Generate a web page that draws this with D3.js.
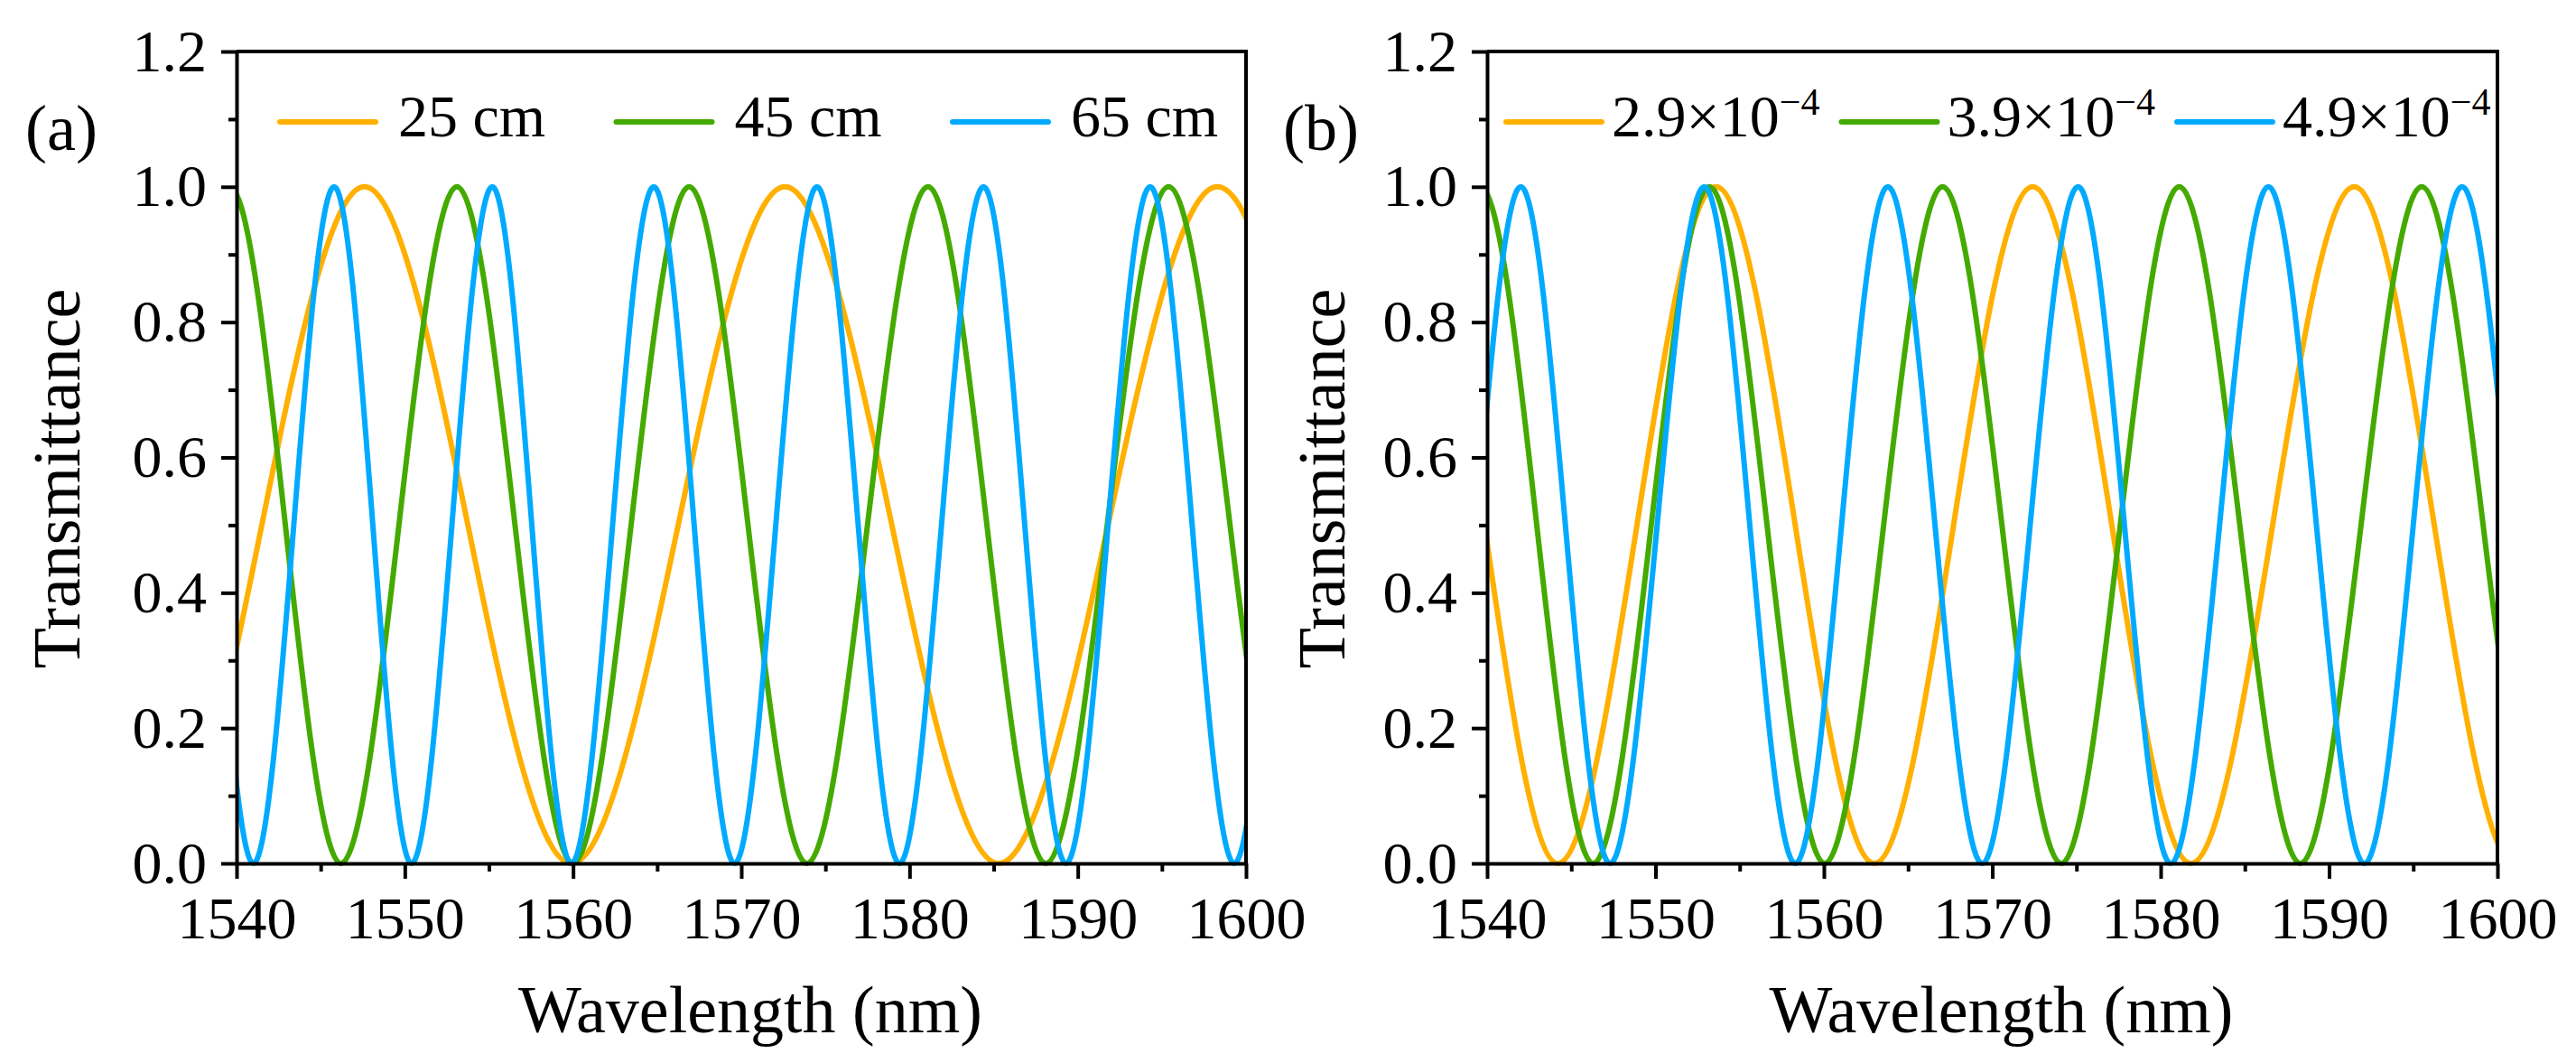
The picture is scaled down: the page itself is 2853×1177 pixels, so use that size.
<!DOCTYPE html>
<html lang="en">
<head>
<meta charset="utf-8">
<script src="https://cdn.jsdelivr.net/npm/d3@7"></script>
<style>
  body { margin: 0; background: #fff; }
  svg text { font-family: "Liberation Serif", "Times New Roman", serif; fill: #000; }
</style>
</head>
<body>
<svg id="chart" width="2853" height="1177"></svg>
<script>
// ticks
var wlTicks = [1540, 1550, 1560, 1570, 1580, 1590, 1600];
var wlMinor = [1545, 1555, 1565, 1575, 1585, 1595];
var tTicks = [0, 0.2, 0.4, 0.6, 0.8, 1.0, 1.2];
var tMinor = [0.1, 0.3, 0.5, 0.7, 0.9, 1.1];

var colors = ["#FFB000", "#44AA00", "#00AAFF"];

// turning points (peaks = 1, dips = 0) of each fringe;
// the first/last two lie just outside 1540-1600 and get clipped
// (a) fibre length
var labelsA = ["25 cm", "45 cm", "65 cm"];
var a25Wl = [1522.9, 1535.4, 1547.6, 1559.9, 1572.6, 1585.3, 1598.3, 1611.4, 1624.6];
var a25T  = [1, 0, 1, 0, 1, 0, 1, 0, 1];
var a45Wl = [1532.9, 1539.6, 1546.2, 1553.1, 1560.0, 1566.9, 1573.9, 1581.1, 1588.1, 1595.4, 1602.7, 1610.2];
var a45T  = [0, 1, 0, 1, 0, 1, 0, 1, 0, 1, 0, 1];
var a65Wl = [1531.6, 1536.3, 1541.0, 1545.8, 1550.4, 1555.2, 1559.9, 1564.8, 1569.6, 1574.5, 1579.4, 1584.4, 1589.3, 1594.3, 1599.3, 1604.4, 1609.6];
var a65T  = [0, 1, 0, 1, 0, 1, 0, 1, 0, 1, 0, 1, 0, 1, 0, 1, 0];

// (b) birefringence
var labelsB = ["2.9", "3.9", "4.9"];
var b29Wl = [1526.6, 1535.5, 1544.2, 1553.6, 1563.0, 1572.4, 1581.8, 1591.5, 1601.0, 1610.8];
var b29T  = [0, 1, 0, 1, 0, 1, 0, 1, 0, 1];
var b39Wl = [1532.9, 1539.6, 1546.3, 1553.2, 1560.05, 1567.05, 1574.1, 1581.1, 1588.3, 1595.5, 1602.8, 1610.2];
var b39T  = [0, 1, 0, 1, 0, 1, 0, 1, 0, 1, 0, 1];
var b49Wl = [1531.5, 1536.7, 1542.0, 1547.3, 1552.9, 1558.3, 1563.8, 1569.4, 1575.1, 1580.6, 1586.4, 1592.1, 1597.9, 1603.7, 1609.6];
var b49T  = [1, 0, 1, 0, 1, 0, 1, 0, 1, 0, 1, 0, 1, 0, 1];

function zip(xs, ys) { return xs.map(function(d, i) { return {x: d, y: ys[i]}; }); }

var panels = [
  { id: "a", left: 262, right: 1380, tag: "(a)", tagX: 28, titleX: 88,
    legX: 48, legStep: 372.5, legGap: 131, sup: false, labels: labelsA,
    series: [zip(a25Wl, a25T), zip(a45Wl, a45T), zip(a65Wl, a65T)] },
  { id: "b", left: 1647, right: 2766, tag: "(b)", tagX: 1421, titleX: 1489,
    legX: 21, legStep: 371.5, legGap: 117, sup: true, labels: labelsB,
    series: [zip(b29Wl, b29T), zip(b39Wl, b39T), zip(b49Wl, b49T)] }
];

var plotTop = 57, plotBottom = 956;
var svg = d3.select("#chart");

panels.forEach(function(p) {
  var x = d3.scaleLinear().domain([1540, 1600]).range([p.left, p.right]);
  var y = d3.scaleLinear().domain([0, 1.2]).range([plotBottom, plotTop]);
  var g = svg.append("g");

  g.append("clipPath").attr("id", "clip-" + p.id)
    .append("rect")
    .attr("x", p.left).attr("y", plotTop - 10)
    .attr("width", p.right - p.left).attr("height", plotBottom - plotTop + 20);

  var line = d3.line()
    .x(function(d) { return x(d.x); })
    .y(function(d) { return y(d.y); })
    .curve(d3.curveMonotoneX);

  g.append("g").attr("clip-path", "url(#clip-" + p.id + ")")
    .selectAll("path").data(p.series).enter().append("path")
    .attr("d", line)
    .attr("fill", "none")
    .attr("stroke", function(d, i) { return colors[i]; })
    .attr("stroke-width", 6)
    .attr("stroke-linejoin", "round");

  // axes
  g.append("g").attr("transform", "translate(0," + plotBottom + ")")
    .call(d3.axisBottom(x).tickValues(wlTicks).tickSize(17).tickSizeOuter(0)
      .tickPadding(19).tickFormat(d3.format("d")));
  g.append("g").attr("transform", "translate(0," + plotBottom + ")")
    .call(d3.axisBottom(x).tickValues(wlMinor).tickSize(9).tickFormat(""))
    .select(".domain").remove();
  g.append("g").attr("transform", "translate(" + p.left + ",0)")
    .call(d3.axisLeft(y).tickValues(tTicks).tickSize(17).tickSizeOuter(0)
      .tickPadding(16).tickFormat(d3.format(".1f")));
  g.append("g").attr("transform", "translate(" + p.left + ",0)")
    .call(d3.axisLeft(y).tickValues(tMinor).tickSize(9).tickFormat(""))
    .select(".domain").remove();

  g.selectAll(".domain, .tick line").attr("stroke", "#000").attr("stroke-width", 4);
  g.selectAll(".tick text").attr("font-size", 66)
    .attr("font-family", "Liberation Serif");

  // frame top/right
  g.append("path")
    .attr("d", "M" + p.left + "," + plotTop + "H" + p.right + "V" + plotBottom)
    .attr("fill", "none").attr("stroke", "#000").attr("stroke-width", 4);

  // titles
  g.append("text")
    .attr("x", (p.left + p.right) / 2 + 10).attr("y", 1143)
    .attr("text-anchor", "middle").attr("font-size", 74)
    .text("Wavelength (nm)");
  g.append("text")
    .attr("transform", "translate(" + p.titleX + ",530) rotate(-90)")
    .attr("text-anchor", "middle").attr("font-size", 74)
    .text("Transmittance");
  g.append("text")
    .attr("x", p.tagX).attr("y", 166).attr("font-size", 72)
    .text(p.tag);

  // legend
  p.labels.forEach(function(lab, i) {
    var lx = p.left + p.legX + i * p.legStep;
    g.append("line")
      .attr("x1", lx).attr("x2", lx + 106).attr("y1", 135).attr("y2", 135)
      .attr("stroke", colors[i]).attr("stroke-width", 6)
      .attr("stroke-linecap", "round");
    var t = g.append("text").attr("x", lx + p.legGap).attr("y", 151)
      .attr("font-size", 66);
    if (p.sup) {
      t.append("tspan").text(lab + "\u00d710");
      t.append("tspan").attr("dy", -24).attr("font-size", 42).text("\u22124");
    } else {
      t.text(lab);
    }
  });
});
</script>
</body>
</html>
